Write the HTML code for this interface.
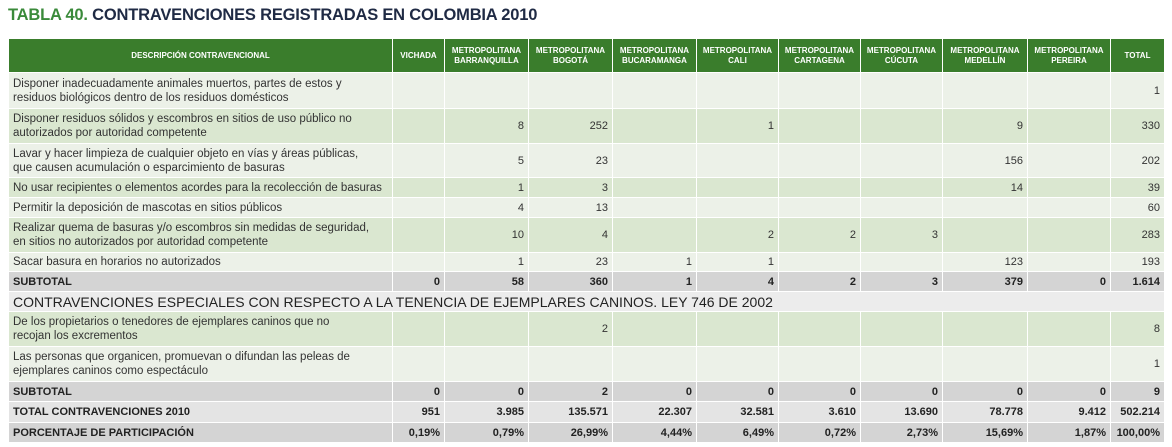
<!DOCTYPE html>
<html><head><meta charset="utf-8">
<style>
body{margin:0;width:1172px;height:447px;background:#fff;font-family:"Liberation Sans",sans-serif;overflow:hidden;position:relative}
.title{position:absolute;left:8px;top:6px;font-size:16.5px;font-weight:bold;color:#1f2a44;letter-spacing:-0.2px}
.title span{color:#3a8a3a}
table{position:absolute;left:8px;top:38px;border-collapse:collapse;table-layout:fixed;width:1156px}
td,th{border:1px solid #fff;padding:0 4px;font-size:11px;color:#333;overflow:hidden}
th{background:#3a7d2c;color:#fff;font-size:8px;font-weight:bold;text-align:center;line-height:10px;height:33px}
td{text-align:right}
td.d{text-align:left;line-height:14px;font-size:11.5px;padding-right:20px}
tr.l td{background:#ecf1e8}
tr.g td{background:#dae7d0}
tr.s td{background:#d4d4d4;font-weight:bold;color:#222}
tr.s td.d,tr.t td.d{font-size:11px}
tr.t td{background:#e4e4e4;font-weight:bold;color:#222}
tr.h td{background:#ececec;font-size:14px;text-align:left;color:#222;font-weight:normal;letter-spacing:0px}
</style></head><body>
<div class="title"><span>TABLA 40.</span> CONTRAVENCIONES REGISTRADAS EN COLOMBIA 2010</div>
<table>
<colgroup><col style="width:384px"><col style="width:52px"><col style="width:84px"><col style="width:84px"><col style="width:84px"><col style="width:82px"><col style="width:82px"><col style="width:82px"><col style="width:85px"><col style="width:83px"><col style="width:54px"></colgroup>
<tr><th>DESCRIPCIÓN CONTRAVENCIONAL</th><th>VICHADA</th><th>METROPOLITANA<br>BARRANQUILLA</th><th>METROPOLITANA<br>BOGOTÁ</th><th>METROPOLITANA<br>BUCARAMANGA</th><th>METROPOLITANA<br>CALI</th><th>METROPOLITANA<br>CARTAGENA</th><th>METROPOLITANA<br>CÚCUTA</th><th>METROPOLITANA<br>MEDELLÍN</th><th>METROPOLITANA<br>PEREIRA</th><th>TOTAL</th></tr>
<tr class="l" style="height:36px"><td class="d">Disponer inadecuadamente animales muertos, partes de estos y residuos biológicos dentro de los residuos domésticos</td><td></td><td></td><td></td><td></td><td></td><td></td><td></td><td></td><td></td><td>1</td></tr>
<tr class="g" style="height:35px"><td class="d">Disponer residuos sólidos y escombros en sitios de uso público no autorizados por autoridad competente</td><td></td><td>8</td><td>252</td><td></td><td>1</td><td></td><td></td><td>9</td><td></td><td>330</td></tr>
<tr class="l" style="height:34px"><td class="d">Lavar y hacer limpieza de cualquier objeto en vías y áreas públicas, que causen acumulación o esparcimiento de basuras</td><td></td><td>5</td><td>23</td><td></td><td></td><td></td><td></td><td>156</td><td></td><td>202</td></tr>
<tr class="g" style="height:20px"><td class="d" style="padding-right:2px">No usar recipientes o elementos acordes para la recolección de basuras</td><td></td><td>1</td><td>3</td><td></td><td></td><td></td><td></td><td>14</td><td></td><td>39</td></tr>
<tr class="l" style="height:20px"><td class="d">Permitir la deposición de mascotas en sitios públicos</td><td></td><td>4</td><td>13</td><td></td><td></td><td></td><td></td><td></td><td></td><td>60</td></tr>
<tr class="g" style="height:35px"><td class="d">Realizar quema de basuras y/o escombros sin medidas de seguridad, en sitios no autorizados por autoridad competente</td><td></td><td>10</td><td>4</td><td></td><td>2</td><td>2</td><td>3</td><td></td><td></td><td>283</td></tr>
<tr class="l" style="height:19px"><td class="d">Sacar basura en horarios no autorizados</td><td></td><td>1</td><td>23</td><td>1</td><td>1</td><td></td><td></td><td>123</td><td></td><td>193</td></tr>
<tr class="s" style="height:20px"><td class="d">SUBTOTAL</td><td>0</td><td>58</td><td>360</td><td>1</td><td>4</td><td>2</td><td>3</td><td>379</td><td>0</td><td>1.614</td></tr>
<tr class="h" style="height:20px"><td colspan="11">CONTRAVENCIONES ESPECIALES CON RESPECTO A LA TENENCIA DE EJEMPLARES CANINOS. LEY 746 DE 2002</td></tr>
<tr class="g" style="height:35px"><td class="d" style="padding-right:40px">De los propietarios o tenedores de ejemplares caninos que no recojan los excrementos</td><td></td><td></td><td>2</td><td></td><td></td><td></td><td></td><td></td><td></td><td>8</td></tr>
<tr class="l" style="height:35px"><td class="d">Las personas que organicen, promuevan o difundan las peleas de ejemplares caninos como espectáculo</td><td></td><td></td><td></td><td></td><td></td><td></td><td></td><td></td><td></td><td>1</td></tr>
<tr class="s" style="height:20px"><td class="d">SUBTOTAL</td><td>0</td><td>0</td><td>2</td><td>0</td><td>0</td><td>0</td><td>0</td><td>0</td><td>0</td><td>9</td></tr>
<tr class="t" style="height:21px"><td class="d">TOTAL CONTRAVENCIONES 2010</td><td>951</td><td>3.985</td><td>135.571</td><td>22.307</td><td>32.581</td><td>3.610</td><td>13.690</td><td>78.778</td><td>9.412</td><td>502.214</td></tr>
<tr class="s" style="height:20px"><td class="d">PORCENTAJE DE PARTICIPACIÓN</td><td>0,19%</td><td>0,79%</td><td>26,99%</td><td>4,44%</td><td>6,49%</td><td>0,72%</td><td>2,73%</td><td>15,69%</td><td>1,87%</td><td>100,00%</td></tr>
</table>
</body></html>
